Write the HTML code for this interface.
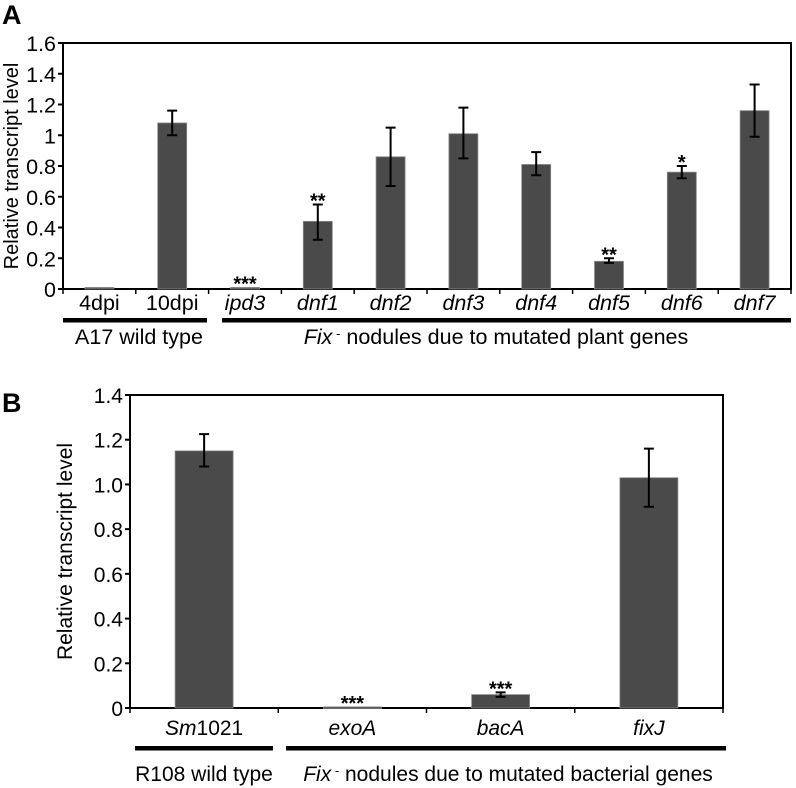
<!DOCTYPE html>
<html><head><meta charset="utf-8"><style>
body{margin:0;background:#fff;}
svg{display:block;font-family:"Liberation Sans",Arial,sans-serif;}
</style></head><body>
<svg id="fig" width="796" height="788" viewBox="0 0 796 788"></svg>
<script>
const catsA=["4dpi","10dpi","ipd3","dnf1","dnf2","dnf3","dnf4","dnf5","dnf6","dnf7"];
const italA=[false,false,true,true,true,true,true,true,true,true];
const valsA=[0.01,1.08,0.01,0.44,0.86,1.01,0.81,0.18,0.76,1.16];
const lowA=[null,1.00,null,0.32,0.67,0.85,0.74,0.17,0.72,0.99];
const highA=[null,1.16,null,0.55,1.05,1.18,0.89,0.20,0.80,1.33];
const sigA=["","","***","**","","","","**","*",""];
const ticksA=["0","0.2","0.4","0.6","0.8","1","1.2","1.4","1.6"];
const catsB=["Sm1021","exoA","bacA","fixJ"];
const valsB=[1.15,0.005,0.06,1.03];
const lowB=[1.08,null,0.05,0.90];
const highB=[1.225,null,0.07,1.16];
const sigB=["","***","***",""];
const ticksB=["0","0.2","0.4","0.6","0.8","1.0","1.2","1.4"];

const NS="http://www.w3.org/2000/svg";
const svg=document.getElementById('fig');
function mk(tag,attrs,parent,text){const e=document.createElementNS(NS,tag);for(const k in attrs)e.setAttribute(k,attrs[k]);if(text!==undefined)e.textContent=text;(parent||svg).appendChild(e);return e;}

function panel(cfg){
  const g=mk('g',{});
  
  
  const {x0,x1,yTop,y0,max}=cfg;
  const y=v=>y0-(v/max)*(y0-yTop);
  const cw=(x1-x0)/cfg.cats.length;
  const frame=mk('rect',{x:x0,y:yTop,width:x1-x0,height:y0-yTop,fill:'none',stroke:'#000','stroke-width':2},g);
  
  
  cfg.ticks.forEach((t,i)=>{
    const v=i*cfg.step, yy=y(v);
    const tk=mk('line',{x1:x0-5,x2:x0,y1:yy,y2:yy,stroke:'#000','stroke-width':2},g);
    
    
    const tl=mk('text',{x:x0-7,y:yy+8,'text-anchor':'end','font-size':cfg.fs},g,t);
    
    
  });
  for(let i=0;i<=cfg.cats.length;i++){
    const xx=x0+i*cw;
    const tk=mk('line',{x1:xx,x2:xx,y1:y0,y2:y0+5,stroke:'#000','stroke-width':1.5},g);
    
    
  }
  cfg.cats.forEach((c,i)=>{
    const cx=x0+(i+0.5)*cw, v=cfg.vals[i];
    const b=mk('rect',{x:cx-cfg.bw/2,y:y(v),width:cfg.bw,height:Math.max(y0-y(v),1.5),fill:'#4a4a4a',stroke:'#8a8a8a','stroke-width':0.8},g);
    
    
    let topY=y(v);
    if(cfg.low[i]!==null){
      const eb=mk('path',{d:`M${cx},${y(cfg.low[i])}V${y(cfg.high[i])}M${cx-5},${y(cfg.low[i])}h10M${cx-5},${y(cfg.high[i])}h10`,stroke:'#000','stroke-width':2,fill:'none'},g);
      
      
      topY=y(cfg.high[i]);
    }
    if(cfg.sig[i]){
      const s=mk('text',{x:cx,y:topY+3,'text-anchor':'middle','font-size':20,'font-weight':'bold'},g,cfg.sig[i]);
      
      
    }
    const lab=mk('text',{x:cx,y:cfg.labY,'text-anchor':'middle','font-size':cfg.fs},g);
    
    
    if(c==="Sm1021"){mk('tspan',{'font-style':'italic'},lab,'Sm');mk('tspan',{},lab,'1021');}
    else{lab.textContent=c;if(cfg.ital[i])lab.setAttribute('font-style','italic');}
  });
  const yt=mk('text',{transform:`translate(${cfg.ytX},${(yTop+y0)/2}) rotate(-90)`,'text-anchor':'middle','font-size':cfg.tfs},g,'Relative transcript level');
  
  
  cfg.groups.forEach(gr=>{
    const l=mk('rect',{x:gr.a,y:cfg.ulY-2,width:gr.b-gr.a,height:4.5,fill:'#000'},g);
    
    
    const t=mk('text',{x:gr.tx,y:cfg.grY,'text-anchor':'middle','font-size':cfg.fs},g);
    
    
    if(gr.fix){mk('tspan',{'font-style':'italic'},t,'Fix');mk('tspan',{dy:-6,'font-size':13},t,' -');mk('tspan',{dy:6},t,' '+gr.text);}
    else t.textContent=gr.text;
  });
  const pl=mk('text',{x:cfg.plX,y:cfg.plY,'font-size':27,'font-weight':'bold'},g,cfg.letter);
  
  
}

panel({name:'panel-a',letter:'A',plX:2,plY:24,x0:63,x1:791,yTop:43,y0:289,max:1.6,step:0.2,ticks:ticksA,
  cats:catsA,ital:italA,vals:valsA,low:lowA,high:highA,sig:sigA,bw:29,fs:21.5,tfs:20,labY:310,ytX:18,
  ulY:320,grY:344,groups:[{a:63,b:207,tx:139,text:'A17 wild type'},{a:222,b:791,tx:496,text:'nodules due to mutated plant genes',fix:true}]});
panel({name:'panel-b',letter:'B',plX:2,plY:412,x0:130,x1:723,yTop:395,y0:708,max:1.4,step:0.2,ticks:ticksB,
  cats:catsB,ital:[true,true,true,true],vals:valsB,low:lowB,high:highB,sig:sigB,bw:58,fs:21,tfs:21,labY:735,ytX:72,
  ulY:748,grY:781,groups:[{a:135,b:273,tx:204,text:'R108 wild type'},{a:286,b:726,tx:508,text:'nodules due to mutated bacterial genes',fix:true}]});
</script>
</body></html>
